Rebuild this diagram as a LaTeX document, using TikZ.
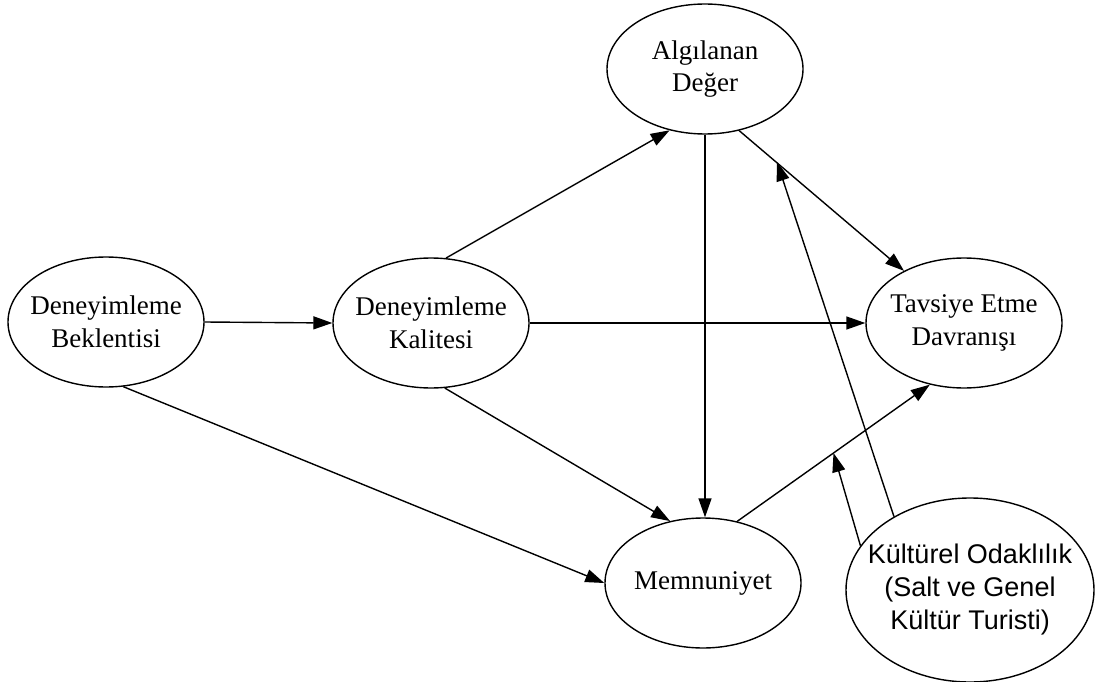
\documentclass[tikz,border=0pt]{standalone}
\usepackage{fontspec}
\setmainfont{Liberation Serif}
\newfontfamily\arialfont{Liberation Sans}
\usetikzlibrary{shapes.geometric,arrows.meta}
\begin{document}
\begin{tikzpicture}[x=1pt,y=-1pt,
  ell/.style={ellipse,draw,line width=1.4pt,minimum width=196pt,minimum height=130pt,inner xsep=-20pt,inner ysep=0pt,align=center,
    font=\fontsize{27}{32.5}\selectfont},
  bigell/.style={ellipse,draw,line width=1.4pt,minimum width=248pt,minimum height=184pt,inner xsep=-20pt,inner ysep=0pt,align=center,
    font=\arialfont\fontsize{27}{33}\selectfont},
  arr/.style={line width=1.4pt,-{Triangle[length=19pt,width=13pt]}}]
\useasboundingbox (0,0) rectangle (1097,682);
\node[ell] (B) at (106,322) {Deneyimleme\\Beklentisi};
\node[ell] (K) at (431,323) {Deneyimleme\\Kalitesi};
\node[ell] (A) at (705,69) {Algılanan\\Değer};
\node[ell] (T) at (964,323) {Tavsiye Etme\\Davranışı};
\node[ell] (M) at (703,583) {Memnuniyet};
\node[bigell] (C) at (970,590) {Kültürel Odaklılık\\(Salt ve Genel\\Kültür Turisti)};
\coordinate (ca) at (777,162);
\draw[arr] (B.0) -- (K.180);
\draw[arr] (K.0) -- (T.180);
\draw[arr] (K.77) -- (A.240);
\draw[arr] (A.south) -- (A.south |- M.north);
\draw[arr] (A.299) -- (T.139);
\draw[arr] (K.282) -- (M.118);
\draw[arr] (B.285) -- (M.180);
\draw[arr] (M.61) -- coordinate[pos=0.5] (mt) (T.241);
\draw[arr] (C.136) -- (ca);
\draw[arr] (C.158) -- (mt);
\end{tikzpicture}
\end{document}
